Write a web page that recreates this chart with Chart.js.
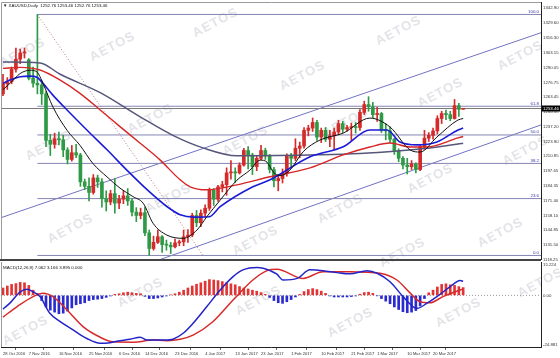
<!DOCTYPE html>
<html><head><meta charset="utf-8">
<script src="https://cdn.jsdelivr.net/npm/chart.js@4.4.1/dist/chart.umd.min.js"></script>
<style>
html,body{margin:0;padding:0;background:#fff;}
#wrap{position:relative;width:560px;height:358px;overflow:hidden;background:#fff;}
canvas{position:absolute;left:0;}
.wm{position:absolute;font:bold 13px "Liberation Sans",Arial,sans-serif;color:rgba(160,160,175,0.30);transform:translate(-50%,-50%) rotate(-28deg);letter-spacing:1px;white-space:nowrap;}
.ttl{position:absolute;font:4.4px "Liberation Sans",Arial,sans-serif;color:#111;white-space:nowrap;line-height:5px;}
</style></head>
<body><div id="wrap">
<div id="wms"></div>
<canvas id="main" width="560" height="270" style="top:0"></canvas>
<canvas id="macd" width="560" height="98" style="top:260px"></canvas>
<div class="ttl" style="left:3px;top:3px">&#9660; XAUUSD,Daily&nbsp; 1252.76 1253.46 1252.76 1253.46</div>
<div class="ttl" style="left:3px;top:265px">MACD(12,26,9) 7.062 3.166 3.895 0.000</div>
</div>
<script>
// ---------------- DATA ----------------
const dates = [
'28 Oct 2016','31 Oct 2016','1 Nov 2016','2 Nov 2016','3 Nov 2016','4 Nov 2016',
'7 Nov 2016','8 Nov 2016','9 Nov 2016','10 Nov 2016','11 Nov 2016',
'14 Nov 2016','15 Nov 2016','16 Nov 2016','17 Nov 2016','18 Nov 2016',
'21 Nov 2016','22 Nov 2016','23 Nov 2016','24 Nov 2016','25 Nov 2016',
'28 Nov 2016','29 Nov 2016','30 Nov 2016','1 Dec 2016','2 Dec 2016',
'5 Dec 2016','6 Dec 2016','7 Dec 2016','8 Dec 2016','9 Dec 2016',
'12 Dec 2016','13 Dec 2016','14 Dec 2016','15 Dec 2016','16 Dec 2016',
'19 Dec 2016','20 Dec 2016','21 Dec 2016','22 Dec 2016','23 Dec 2016',
'26 Dec 2016','27 Dec 2016','28 Dec 2016','29 Dec 2016','30 Dec 2016',
'3 Jan 2017','4 Jan 2017','5 Jan 2017','6 Jan 2017',
'9 Jan 2017','10 Jan 2017','11 Jan 2017','12 Jan 2017','13 Jan 2017',
'16 Jan 2017','17 Jan 2017','18 Jan 2017','19 Jan 2017','20 Jan 2017',
'23 Jan 2017','24 Jan 2017','25 Jan 2017','26 Jan 2017','27 Jan 2017',
'30 Jan 2017','31 Jan 2017','1 Feb 2017','2 Feb 2017','3 Feb 2017',
'6 Feb 2017','7 Feb 2017','8 Feb 2017','9 Feb 2017','10 Feb 2017',
'13 Feb 2017','14 Feb 2017','15 Feb 2017','16 Feb 2017','17 Feb 2017',
'20 Feb 2017','21 Feb 2017','22 Feb 2017','23 Feb 2017','24 Feb 2017',
'27 Feb 2017','28 Feb 2017','1 Mar 2017','2 Mar 2017','3 Mar 2017',
'6 Mar 2017','7 Mar 2017','8 Mar 2017','9 Mar 2017','10 Mar 2017',
'13 Mar 2017','14 Mar 2017','15 Mar 2017','16 Mar 2017','17 Mar 2017',
'20 Mar 2017','21 Mar 2017','22 Mar 2017','23 Mar 2017','24 Mar 2017',
'27 Mar 2017','28 Mar 2017','29 Mar 2017'];

const opens = [1266.5,1275.5,1277.5,1288.5,1297.5,1303.0,1297.0,1280.5,1276.0,1274.5,1266.5,
1225.0,1221.5,1226.5,1225.5,1216.5,1208.0,1214.0,1212.0,1188.0,1184.0,
1178.5,1191.5,1188.0,1173.0,1170.0,1177.5,1169.0,1172.5,1175.5,1171.0,
1161.0,1158.0,1160.5,1142.5,1128.5,1134.0,1139.0,1132.0,1131.5,1130.0,
1133.5,1134.5,1139.0,1140.5,1158.0,1151.5,1160.0,1164.5,1180.5,
1172.5,1183.5,1185.5,1196.0,1196.5,1196.0,1203.0,1216.0,1212.0,1201.5,
1209.0,1216.0,1211.0,1199.0,1189.0,1191.0,1195.5,1211.0,1209.0,1218.0,
1220.0,1234.0,1236.0,1241.0,1228.0,1234.0,1226.0,1229.0,1232.5,1240.0,
1235.0,1236.5,1237.0,1236.5,1250.0,1257.0,1255.0,1248.0,1249.0,1234.0,
1233.5,1226.0,1215.5,1209.0,1203.0,1201.5,1204.0,1199.0,1219.5,1227.0,
1229.5,1233.5,1244.5,1249.0,1248.0,1244.5,1256.0,1252.76];
const highs = [1284.0,1281.0,1290.5,1307.5,1306.5,1307.5,1298.0,1290.5,1337.4,1278.5,1268.5,
1230.5,1231.5,1232.5,1229.5,1218.5,1220.5,1221.5,1213.5,1190.5,1191.5,
1194.5,1194.0,1191.0,1180.0,1180.5,1191.0,1176.0,1180.0,1182.0,1173.0,
1165.0,1164.5,1165.5,1145.0,1139.5,1145.0,1140.0,1136.0,1134.0,1137.0,
1136.0,1145.0,1145.5,1160.0,1162.5,1163.0,1167.5,1182.5,1182.0,
1185.0,1188.5,1200.5,1207.0,1200.5,1205.0,1218.0,1219.5,1213.5,1211.0,
1220.5,1218.0,1212.5,1201.0,1194.0,1199.5,1213.0,1213.5,1226.5,1223.5,
1236.5,1238.5,1245.0,1243.0,1236.0,1236.5,1234.0,1236.0,1243.0,1242.0,
1238.5,1240.5,1241.0,1252.5,1260.0,1264.0,1259.0,1254.5,1250.0,1240.0,
1237.0,1227.0,1217.5,1210.5,1209.0,1207.0,1205.0,1221.5,1234.0,1232.0,
1236.0,1247.0,1251.0,1252.0,1251.0,1261.5,1258.0,1253.46];
const lows = [1265.0,1270.5,1275.5,1286.0,1293.5,1298.5,1279.0,1272.5,1266.5,1257.0,1219.5,
1211.5,1218.0,1221.0,1210.5,1204.0,1206.5,1209.5,1184.0,1181.0,1171.0,
1177.0,1183.0,1165.5,1162.0,1167.5,1160.0,1164.0,1168.5,1167.0,1157.5,
1152.5,1155.0,1140.0,1122.3,1127.0,1133.0,1125.0,1127.0,1124.0,1129.0,
1131.0,1131.0,1134.0,1139.0,1148.0,1148.0,1157.0,1162.5,1167.0,
1170.5,1179.0,1176.0,1190.5,1187.5,1195.0,1202.0,1199.5,1194.5,1198.0,
1207.5,1208.0,1196.0,1183.5,1180.0,1187.0,1193.0,1200.5,1207.0,1209.5,
1218.0,1229.0,1233.0,1225.0,1223.0,1224.0,1219.5,1217.0,1230.0,1232.0,
1233.0,1225.0,1231.5,1234.0,1248.0,1251.0,1245.0,1242.0,1232.0,1225.5,
1223.0,1212.5,1206.0,1199.5,1195.0,1199.0,1196.0,1198.0,1217.0,1224.0,
1226.0,1231.0,1240.0,1243.5,1242.5,1244.0,1246.5,1252.76];
const closes = [1275.5,1277.5,1288.5,1297.5,1303.0,1304.0,1280.5,1276.0,1274.5,1266.5,1225.0,
1221.5,1226.5,1225.5,1216.5,1208.0,1214.0,1212.0,1188.0,1184.0,1178.5,
1191.5,1188.0,1173.0,1170.0,1177.5,1169.0,1172.5,1175.5,1171.0,1161.0,
1158.0,1160.5,1142.5,1128.5,1134.0,1139.0,1132.0,1131.5,1130.0,1133.5,
1134.5,1139.0,1140.5,1158.0,1151.5,1160.0,1164.5,1180.5,1172.5,
1183.5,1185.5,1196.0,1196.5,1196.0,1203.0,1216.0,1212.0,1201.5,1209.0,
1216.0,1211.0,1199.0,1189.0,1191.0,1195.5,1211.0,1209.0,1218.0,1220.0,
1234.0,1236.0,1241.0,1228.0,1234.0,1226.0,1229.0,1232.5,1240.0,1235.0,
1236.5,1237.0,1236.5,1250.0,1257.0,1255.0,1248.0,1249.0,1234.0,1233.5,
1226.0,1215.5,1209.0,1203.0,1201.5,1204.0,1199.0,1219.5,1227.0,1229.5,
1233.5,1244.5,1249.0,1248.0,1244.5,1256.0,1252.8,1253.46];

// moving averages: [bar index, price]
const maBlack = [[0,1270.3],[1.6,1275.8],[4.0,1284.7],[6.3,1287.6],[7.9,1286.1],[9.3,1275.8],[11.6,1254.9],
[14.9,1234.0],[17.9,1220.6],[20.9,1204.4],[24.2,1192.4],[27.2,1182.4],[30.2,1174.9],[32.6,1168.9],
[34.9,1151.0],[38.1,1140.5],[41.9,1137.6],[45.1,1145.0],[47.4,1156.9],[50.5,1171.7],[54.4,1189.5],
[57.4,1198.4],[59.8,1207.4],[61.4,1205.5],[62.8,1197.0],[64.4,1193.5],[66.7,1198.4],[69.8,1214.9],
[73.7,1225.3],[79.1,1231.5],[85.3,1244.9],[90.0,1236.9],[94.7,1216.4],[97.0,1214.6],[100.9,1228.0],
[105.8,1243.2],[107,1244.5]];
const maBlue = [[0,1275.9],[1.6,1278.8],[4.0,1281.8],[6.3,1282.4],[7.9,1281.3],[9.3,1275.9],[11.6,1265.4],
[14.9,1252.1],[19.5,1234.3],[24.2,1216.6],[28.8,1198.5],[33.5,1181.0],[38.1,1166.0],[41.2,1158.6],
[44.5,1156.5],[47.9,1156.8],[50.5,1165.8],[58.1,1183.6],[62.1,1189.8],[71.4,1210.4],[79.1,1219.3],
[85.3,1234.3],[89.3,1234.3],[92.3,1223.6],[96.3,1221.0],[100.9,1223.6],[105.8,1234.3],[107,1236.0]];
const maRed = [[0,1289.3],[4.0,1290.2],[8.6,1287.8],[13.3,1278.8],[17.9,1267.0],[22.6,1252.2],[27.2,1237.3],
[31.9,1222.5],[36.5,1207.6],[41.2,1189.8],[43.5,1183.6],[47.4,1180.9],[54.4,1185.3],[62.1,1192.5],
[71.4,1200.4],[79.1,1212.0],[85.3,1219.1],[90.0,1222.7],[94.7,1219.1],[98.6,1219.1],[105.8,1227.2],[107,1228.5]];
const maGray = [[0,1295.0],[8.6,1294.1],[13.3,1284.0],[22.6,1267.6],[31.9,1246.0],[39.5,1229.5],[46.5,1218.3],
[54.4,1211.2],[73.7,1212.1],[83.0,1213.3],[92.3,1215.8],[99.3,1218.3],[105.8,1221.7],[107,1222.5]];

// drawn objects
const fibLevels = [1337.40,1255.47,1229.85,1204.47,1173.06,1122.30];
const fibNames  = ['100.0','61.8','50.0','38.2','23.6','0.0'];
const fibStartIdx = 8;
const fibTrend = [[8,1337.4],[46.5,1122.3]];
const channelTop = [[-0.465,1156.0],[125.1,1321.1]];
const channelBottom = [[-0.465,1068.5],[125.1,1238.8]];
const bidPrice = 1253.46;

// axis ticks
const priceTicks = [1342.90,1329.60,1316.30,1303.15,1290.05,1276.75,1263.45,1250.35,1237.20,1223.90,
1210.85,1197.65,1184.35,1171.40,1158.10,1144.85,1131.50,1118.25];
const macdTicks = [15.224,0,-24.881];
const dateTickIdx = [0,6,13,20,27,33,40,47,54,60,67,74,81,87,94,100];

// MACD
const macdMain = [[0,-6.9],[1.6,-3.9],[4.0,1.8],[5.6,3.1],[7.0,1.8],[8.6,-0.6],[10.9,-9.0],[13.3,-13.2],
[16.3,-17.3],[19.5,-21.6],[22.6,-24.0],[24.9,-23.7],[27.2,-22.7],[29.5,-22.0],[31.9,-21.0],[33.5,-22.4],
[35.8,-22.4],[38.1,-22.4],[39.5,-22.0],[41.9,-19.0],[44.2,-14.0],[47.4,-5.6],[50.5,2.7],[53.5,9.4],
[55.8,12.8],[59.1,14.0],[60.5,13.6],[62.1,12.4],[63.7,10.6],[65.1,7.7],[68.4,8.5],[71.4,12.8],[74.4,12.4],
[77.7,11.4],[80.7,10.8],[84.7,12.4],[87.0,11.1],[90.0,6.8],[93.0,-0.6],[95.3,-5.6],[96.3,-6.5],[98.6,-3.9],
[100.9,-0.6],[104.0,4.4],[106.3,7.4],[107,7.06]];
const macdSignal = [[0,-10.9],[3.3,-5.6],[7.0,-0.6],[9.3,1.1],[11.6,-0.6],[14.9,-7.3],[18.6,-15.7],[22.6,-21.0],
[25.6,-23.3],[30.2,-23.5],[34.9,-22.4],[38.1,-22.7],[41.2,-22.0],[44.2,-19.9],[48.8,-13.2],[53.5,-2.3],
[58.1,7.7],[61.4,12.4],[63.7,13.1],[69.8,8.5],[74.4,11.9],[80.7,11.9],[87.7,11.1],[91.6,7.7],[94.7,1.1],
[97.0,-3.2],[99.3,-3.7],[102.3,-0.6],[106.3,2.7],[107,3.17]];
const macdHist = [3.7,4.7,5.5,5.9,6.5,6.3,5.0,2.6,1.0,-2.6,-5.8,-7.4,-8.4,-9.2,-8.9,-7.9,-6.3,-4.7,-4.2,-3.7,
-2.6,-2.1,-1.9,-1.6,-1.0,-0.3,0.5,0.8,1.3,1.6,1.3,1.0,0.8,-0.5,-1.6,-1.6,-1.3,-0.8,-0.3,0.3,
0.8,1.6,2.6,3.7,4.7,5.6,6.3,7.1,7.9,7.7,7.4,6.9,6.3,5.8,5.3,4.4,3.7,3.2,2.6,2.1,
1.4,0.5,-1.0,-2.6,-3.7,-4.0,-3.2,-2.1,-0.8,0.5,1.9,2.9,3.4,2.9,2.1,1.0,-0.3,-0.8,-0.8,-0.8,
-0.8,-0.6,-0.3,0.6,1.4,1.6,1.0,-0.2,-1.6,-2.9,-4.2,-5.8,-7.1,-8.2,-8.7,-8.4,-7.6,-5.3,-1.6,1.3,
2.6,4.2,5.5,5.8,5.3,5.0,4.4,3.9];

// ---------------- STYLE ----------------
const X_MIN = -0.465, X_MAX = 125.1;
const FONT = '"Liberation Sans", Arial, sans-serif';
const UP = '#d42a2a', DOWN = '#2f9a45';
const wmPos = [[22,52],[112,46],[215,22],[302,75],[398,30],[440,92],[520,55],
[48,145],[150,118],[245,140],[345,122],[430,178],[525,150],
[70,228],[168,198],[255,240],[340,208],[402,252],[500,232],
[25,330],[140,292],[258,300],[350,322],[458,312],[540,282]];

const wms = document.getElementById('wms');
wmPos.forEach(([x,y]) => { const s = document.createElement('span'); s.className='wm'; s.textContent='AETOS'; s.style.left=x+'px'; s.style.top=y+'px'; wms.appendChild(s); });

const pts = a => a.map(([x,y]) => ({x, y}));
const candleColors = opens.map((o,i) => closes[i] >= o ? UP : DOWN);
const hLine = (y, x0) => [{x: x0, y}, {x: X_MAX, y}];

const lineDs = (data, color, width, extra) => Object.assign({type:'line', data, borderColor:color, borderWidth:width,
  pointRadius:0, fill:false, tension:0}, extra || {});

const mainDatasets = [
  lineDs(pts(maBlack), '#111111', 1, {cubicInterpolationMode:'monotone'}),
  lineDs(pts(maBlue), '#1c1cd8', 1.6, {cubicInterpolationMode:'monotone'}),
  lineDs(pts(maRed), '#d82626', 1.4, {cubicInterpolationMode:'monotone'}),
  lineDs(pts(maGray), '#56567a', 1.5, {cubicInterpolationMode:'monotone'}),
  {type:'bar', data: opens.map((o,i) => ({x:i, y:[o, closes[i]]})), backgroundColor:candleColors,
   barThickness:3, grouped:false, minBarLength:1, borderWidth:0},
  {type:'bar', data: lows.map((l,i) => ({x:i, y:[l, highs[i]]})), backgroundColor:candleColors,
   barThickness:1, grouped:false, borderWidth:0},
  lineDs(hLine(bidPrice, X_MIN), '#7a7a7a', 1),
  ...fibLevels.map(v => lineDs(hLine(v, fibStartIdx), '#8585b5', 1)),
  lineDs(pts(fibTrend), '#b87a7a', 1, {borderDash:[1,2]}),
  lineDs(pts(channelTop), '#7272c4', 1),
  lineDs(pts(channelBottom), '#7272c4', 1)
];

const mainDecor = {
  id:'mainDecor',
  afterDraw(chart) {
    const {ctx, chartArea:a, scales:{y}} = chart;
    ctx.save();
    // frame
    ctx.strokeStyle = '#9a9a9a'; ctx.lineWidth = 1;
    ctx.beginPath(); ctx.moveTo(a.left+0.5, a.bottom); ctx.lineTo(a.left+0.5, a.top+0.5); ctx.lineTo(a.right, a.top+0.5); ctx.stroke();
    ctx.strokeStyle = '#444'; ctx.lineWidth = 2;
    ctx.beginPath(); ctx.moveTo(0, a.bottom+1); ctx.lineTo(a.right, a.bottom+1); ctx.stroke();
    // fib labels
    ctx.font = '4.4px ' + FONT; ctx.fillStyle = '#3a3aa8'; ctx.textAlign = 'right'; ctx.textBaseline = 'bottom';
    fibLevels.forEach((v,i) => ctx.fillText(fibNames[i], a.right - 2, y.getPixelForValue(v) - 0.5));
    // current price box
    const py = y.getPixelForValue(bidPrice);
    ctx.fillStyle = '#000'; ctx.fillRect(a.right + 1, py - 3, 18, 6);
    ctx.fillStyle = '#fff'; ctx.textAlign = 'left'; ctx.textBaseline = 'middle';
    ctx.fillText(bidPrice.toFixed(2), a.right + 2, py + 0.3);
    ctx.restore();
  }
};

new Chart(document.getElementById('main'), {
  type:'bar',
  data:{datasets: mainDatasets},
  options:{
    responsive:false, animation:false, events:[],
    layout:{padding:{left:1, right:0, top:2, bottom:11}},
    plugins:{legend:{display:false}, tooltip:{enabled:false}},
    scales:{
      x:{type:'linear', min:X_MIN, max:X_MAX, display:false, offset:false},
      y:{position:'right', min:1119.14, max:1348.52,
        afterBuildTicks(s){ s.ticks = priceTicks.map(v => ({value:v})); },
        afterFit(s){ s.width = 19; s.paddingTop = 0; s.paddingBottom = 0; },
        ticks:{callback:v => Number(v).toFixed(2), font:{size:4.3, family:FONT}, color:'#333', padding:2, autoSkip:false},
        grid:{drawOnChartArea:false, drawTicks:false},
        border:{color:'#222', width:1}
      }
    }
  },
  plugins:[mainDecor]
});

const macdDecor = {
  id:'macdDecor',
  afterDraw(chart) {
    const {ctx, chartArea:a} = chart;
    ctx.save();
    ctx.strokeStyle = '#9a9a9a'; ctx.lineWidth = 1;
    ctx.beginPath(); ctx.moveTo(a.left+0.5, a.top); ctx.lineTo(a.left+0.5, a.bottom); ctx.stroke();
    ctx.restore();
  }
};

new Chart(document.getElementById('macd'), {
  type:'bar',
  data:{datasets:[
    lineDs(pts(macdMain), '#2323c8', 1.5, {cubicInterpolationMode:'monotone'}),
    lineDs(pts(macdSignal), '#d82a2a', 1.5, {cubicInterpolationMode:'monotone'}),
    {type:'bar', data: macdHist.map((v,i) => ({x:i, y:v})), backgroundColor: macdHist.map(v => v >= 0 ? '#e03535' : '#2a2ad0'),
     barThickness:2, grouped:false, borderWidth:0},
    lineDs(hLine(0, X_MIN), '#9a9a9a', 1, {borderDash:[1,2]})
  ]},
  options:{
    responsive:false, animation:false, events:[],
    layout:{padding:{left:1, right:0, top:2, bottom:0}},
    plugins:{legend:{display:false}, tooltip:{enabled:false}},
    scales:{
      x:{type:'linear', min:X_MIN, max:X_MAX, offset:false,
        afterBuildTicks(s){ s.ticks = dateTickIdx.map(v => ({value:v})); },
        afterFit(s){ s.height = 11; s.paddingLeft = 0; s.paddingRight = 0; },
        ticks:{callback:v => dates[v] || '', font:{size:4.1, family:FONT}, color:'#333', align:'start',
          maxRotation:0, autoSkip:false, padding:1},
        grid:{drawOnChartArea:false, tickLength:3, tickColor:'#666'},
        border:{color:'#222', width:1}
      },
      y:{position:'right', min:-25.884, max:16.728,
        afterBuildTicks(s){ s.ticks = macdTicks.map(v => ({value:v})); },
        afterFit(s){ s.width = 19; s.paddingTop = 0; s.paddingBottom = 0; },
        ticks:{callback:v => v === 0 ? '0.00' : String(v), font:{size:4.3, family:FONT}, color:'#333', padding:2, autoSkip:false},
        grid:{drawOnChartArea:false, drawTicks:false},
        border:{color:'#222', width:1}
      }
    }
  },
  plugins:[macdDecor]
});
</script>
</body></html>
